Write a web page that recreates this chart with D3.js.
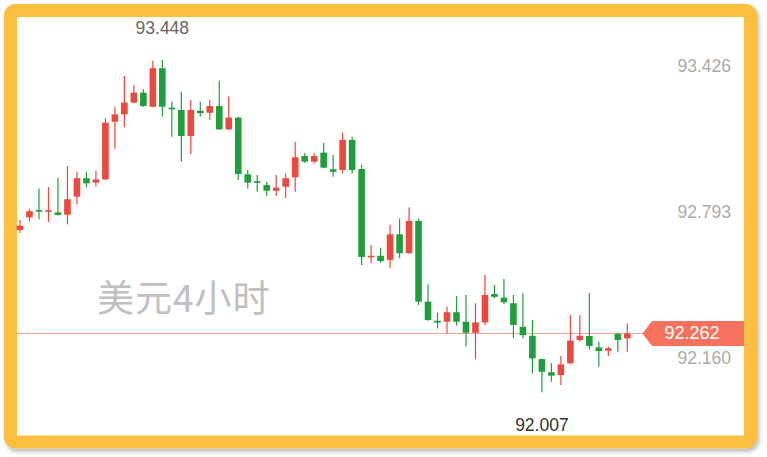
<!DOCTYPE html>
<html><head><meta charset="utf-8">
<script src="https://cdn.jsdelivr.net/npm/d3@7/dist/d3.min.js"></script>
<style>html,body{margin:0;padding:0;background:#fff;}svg{display:block;}</style>
</head><body>
<svg id="chart" width="767" height="457"></svg>
<script>
const categories = d3.range(1, 66).map(String);
const opens  = [92.711,92.766,92.794,92.788,92.787,92.777,92.855,92.935,92.916,92.930,93.180,93.212,93.263,93.306,93.245,93.412,93.241,93.231,93.118,93.228,93.219,93.248,93.147,93.198,92.952,92.919,92.906,92.881,92.898,92.939,93.031,93.007,93.046,92.974,92.971,93.101,92.975,92.592,92.599,92.581,92.692,92.610,92.750,92.400,92.317,92.313,92.354,92.313,92.265,92.310,92.433,92.417,92.393,92.291,92.252,92.151,92.094,92.082,92.133,92.234,92.251,92.202,92.187,92.260,92.241];
const highs  = [92.754,92.803,92.891,92.897,92.937,92.988,92.963,92.963,92.968,93.195,93.245,93.378,93.339,93.321,93.445,93.448,93.267,93.310,93.274,93.267,93.274,93.358,93.289,93.202,92.971,92.949,92.920,92.949,92.956,93.093,93.043,93.043,93.089,93.036,93.132,93.115,92.995,92.646,92.634,92.732,92.761,92.809,92.761,92.475,92.352,92.378,92.424,92.429,92.393,92.516,92.472,92.498,92.429,92.436,92.320,92.154,92.133,92.164,92.342,92.342,92.436,92.226,92.205,92.265,92.306];
const lows   = [92.698,92.747,92.757,92.745,92.773,92.735,92.823,92.896,92.898,92.927,93.062,93.156,93.260,93.245,93.243,93.202,93.115,93.007,93.040,93.202,93.188,93.144,93.144,92.927,92.891,92.877,92.858,92.858,92.848,92.877,93.002,93.000,92.978,92.942,92.956,92.956,92.559,92.566,92.569,92.545,92.588,92.608,92.385,92.317,92.284,92.263,92.296,92.205,92.150,92.299,92.415,92.389,92.241,92.241,92.089,92.007,92.053,92.039,92.130,92.226,92.193,92.118,92.164,92.183,92.183];
const closes = [92.729,92.792,92.789,92.793,92.776,92.844,92.935,92.913,92.930,93.176,93.212,93.263,93.306,93.248,93.412,93.245,93.234,93.118,93.231,93.217,93.248,93.147,93.198,92.953,92.916,92.913,92.881,92.894,92.935,93.026,93.007,93.031,92.981,92.963,93.101,92.971,92.594,92.599,92.576,92.692,92.610,92.750,92.400,92.320,92.309,92.354,92.313,92.265,92.310,92.429,92.421,92.397,92.299,92.255,92.154,92.096,92.079,92.128,92.231,92.252,92.208,92.186,92.198,92.234,92.262];
const axisTicks = [93.426, 92.793, 92.160];
const lastPrice = 92.262;
const maxLabel = "93.448";
const minLabel = "92.007";
const watermark = "美元4小时";

const data = categories.map((c, i) => ({c, o: opens[i], h: highs[i], l: lows[i], cl: closes[i]}));
const svg = d3.select("#chart");
const UP = "#e9493f", DOWN = "#1f9e3b";

const x = d3.scalePoint().domain(categories).range([20, 627.3]);
const y = d3.scaleLinear().domain([92.160, 93.426]).range([357, 65]);

const defs = svg.append("defs");
const f = defs.append("filter").attr("id", "sh").attr("x", "-5%").attr("y", "-5%").attr("width", "110%").attr("height", "115%");
f.append("feDropShadow").attr("dx", 2).attr("dy", 3).attr("stdDeviation", 2).attr("flood-color", "#000").attr("flood-opacity", 0.28);

svg.append("rect").attr("x", 10.5).attr("y", 10.5).attr("width", 740).attr("height", 431.5)
  .attr("rx", 5).attr("fill", "#fff").attr("stroke", "#fcbf41").attr("stroke-width", 13).attr("filter", "url(#sh)");

svg.append("text").attr("x", 97).attr("y", 296).attr("dominant-baseline", "central")
  .attr("font-family", "'Noto Sans CJK SC', sans-serif").attr("font-size", 37).attr("letter-spacing", 1)
  .attr("fill", "#c0c0c0").text(watermark);

svg.append("line").attr("x1", 17).attr("x2", 643).attr("y1", y(lastPrice)).attr("y2", y(lastPrice))
  .attr("stroke", "#f3a39c").attr("stroke-width", 1);

const axis = d3.axisRight(y).tickValues(axisTicks).tickFormat(d3.format(".3f")).tickSize(0);
const ag = svg.append("g").attr("transform", "translate(731,0)").call(axis);
ag.select(".domain").remove();
ag.selectAll("text").attr("x", 0).attr("dx", 0).attr("text-anchor", "end").attr("dy", "0.35em")
  .attr("font-family", "'Liberation Sans', Arial, sans-serif").attr("font-size", 17.5).attr("fill", "#ababab");
ag.selectAll("g.tick").filter(d => d === 92.160).attr("transform", `translate(0,${y(92.160) + 1})`);

const bw = 6.6;
const g = svg.append("g");
const cg = g.selectAll("g.c").data(data).join("g").attr("class", "c");
cg.append("line")
  .attr("x1", d => x(d.c)).attr("x2", d => x(d.c))
  .attr("y1", d => y(d.h)).attr("y2", d => y(d.l))
  .attr("stroke", d => d.cl >= d.o ? UP : DOWN).attr("stroke-width", 1.2);
cg.append("rect")
  .attr("x", d => x(d.c) - bw / 2).attr("width", bw)
  .attr("y", d => Math.min(y(d.o), y(d.cl)) - (Math.abs(y(d.o) - y(d.cl)) < 1.6 ? 0.8 : 0))
  .attr("height", d => Math.max(Math.abs(y(d.o) - y(d.cl)), 1.6))
  .attr("fill", d => d.cl >= d.o ? UP : DOWN);

const iMax = d3.maxIndex(highs), iMin = d3.minIndex(lows);
svg.append("text").attr("x", x(categories[iMax])).attr("y", 28).attr("text-anchor", "middle").attr("dominant-baseline", "central")
  .attr("font-family", "'Liberation Sans', Arial, sans-serif").attr("font-size", 17.5).attr("fill", "#666").text(maxLabel);
svg.append("text").attr("x", x(categories[iMin])).attr("y", 425).attr("text-anchor", "middle").attr("dominant-baseline", "central")
  .attr("font-family", "'Liberation Sans', Arial, sans-serif").attr("font-size", 17.5).attr("fill", "#333").text(minLabel);

const py = y(lastPrice);
svg.append("path").attr("d", `M642.5,${py} L652,${py - 12.5} L744,${py - 12.5} L744,${py + 12.5} L652,${py + 12.5} Z`)
  .attr("fill", "#f5735e");
svg.append("text").attr("x", 692).attr("y", py).attr("text-anchor", "middle").attr("dominant-baseline", "central")
  .attr("font-family", "'Liberation Sans', Arial, sans-serif").attr("font-size", 18).attr("fill", "#fff").text(lastPrice.toFixed(3));
</script>
</body></html>
